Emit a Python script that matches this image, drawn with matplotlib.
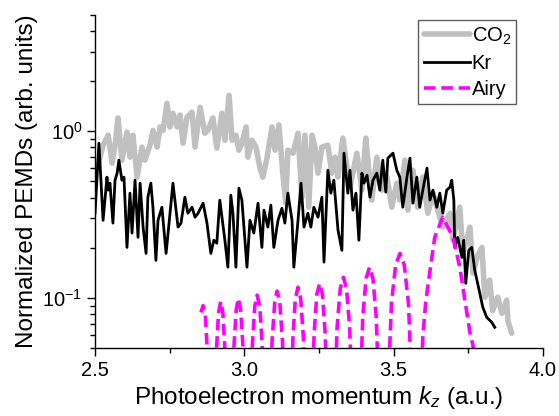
import numpy as np
import matplotlib
matplotlib.use('Agg')
import matplotlib.pyplot as plt
from matplotlib.ticker import MultipleLocator, LogLocator, NullFormatter

plt.rcParams['font.family'] = ['Liberation Sans', 'DejaVu Sans']
plt.rcParams['mathtext.fontset'] = 'custom'
plt.rcParams['mathtext.rm'] = 'Liberation Sans'
plt.rcParams['mathtext.it'] = 'Liberation Sans:italic'

# CO2 (серая кривая)
k_co2 = [2.510, 2.527, 2.544, 2.557, 2.567, 2.577, 2.590, 2.607, 2.617, 2.627,
         2.641, 2.657, 2.667, 2.684, 2.694, 2.708, 2.718, 2.728, 2.741, 2.751,
         2.761, 2.775, 2.785, 2.795, 2.808, 2.825, 2.835, 2.852, 2.868, 2.878,
         2.895, 2.908, 2.925, 2.935, 2.949, 2.959, 2.972, 2.982, 2.992, 3.006,
         3.012, 3.026, 3.039, 3.052, 3.062, 3.076, 3.093, 3.103, 3.116, 3.129,
         3.139, 3.146, 3.163, 3.180, 3.193, 3.203, 3.216, 3.227, 3.237, 3.247,
         3.260, 3.280, 3.293, 3.304, 3.314, 3.330, 3.354, 3.377, 3.394, 3.407,
         3.414, 3.427, 3.444, 3.461, 3.478, 3.494, 3.511, 3.521, 3.538, 3.548,
         3.565, 3.581, 3.598, 3.615, 3.632, 3.648, 3.665, 3.689, 3.699, 3.722,
         3.732, 3.756, 3.766, 3.782, 3.796, 3.806, 3.822, 3.832, 3.849, 3.863,
         3.879, 3.883, 3.896]
v_co2 = [0.625, 0.824, 0.946, 0.643, 0.824, 1.20, 0.670, 0.986, 0.698, 0.946,
         0.530, 0.802, 0.670, 0.824, 1.01, 0.802, 1.06, 1.01, 1.47, 1.06,
         1.28, 1.06, 1.25, 0.847, 1.21, 1.30, 0.802, 1.39, 0.972, 1.01,
         1.20, 0.791, 1.28, 0.883, 1.64, 0.883, 0.946, 0.769, 0.847, 1.06,
         0.698, 0.883, 0.802, 0.608, 0.530, 0.689, 1.06, 0.769, 1.09, 0.560,
         0.370, 0.769, 0.738, 0.972, 0.402, 0.946, 0.350, 0.946, 0.802, 0.560,
         0.802, 0.824, 0.560, 0.698, 0.530, 0.908, 0.461, 0.738, 0.443, 0.908,
         0.670, 0.386, 0.698, 0.443, 0.530, 0.350, 0.488, 0.386, 0.670, 0.336,
         0.583, 0.350, 0.530, 0.322, 0.425, 0.336, 0.266, 0.322, 0.222, 0.350,
         0.185, 0.266, 0.141, 0.180, 0.201, 0.101, 0.128, 0.084, 0.101, 0.081,
         0.097, 0.073, 0.0614]

# Kr (черная кривая)
k_kr = [2.500, 2.513, 2.527, 2.540, 2.544, 2.550, 2.560, 2.567, 2.574, 2.580,
        2.590, 2.597, 2.607, 2.617, 2.624, 2.634, 2.644, 2.651, 2.661, 2.671,
        2.677, 2.687, 2.694, 2.704, 2.711, 2.724, 2.738, 2.748, 2.761, 2.778,
        2.788, 2.801, 2.811, 2.825, 2.835, 2.845, 2.862, 2.875, 2.888, 2.898,
        2.908, 2.918, 2.935, 2.945, 2.955, 2.962, 2.972, 2.982, 2.992, 3.009,
        3.019, 3.032, 3.046, 3.059, 3.066, 3.079, 3.089, 3.099, 3.113, 3.126,
        3.136, 3.146, 3.160, 3.166, 3.180, 3.190, 3.200, 3.213, 3.223, 3.233,
        3.247, 3.260, 3.267, 3.280, 3.290, 3.300, 3.314, 3.327, 3.334, 3.347,
        3.354, 3.364, 3.374, 3.384, 3.394, 3.401, 3.411, 3.421, 3.431, 3.444,
        3.454, 3.464, 3.474, 3.481, 3.498, 3.511, 3.521, 3.531, 3.545, 3.555,
        3.565, 3.578, 3.588, 3.598, 3.612, 3.622, 3.632, 3.645, 3.655, 3.665,
        3.678, 3.689, 3.695, 3.702, 3.705, 3.715, 3.729, 3.735, 3.742, 3.752,
        3.762, 3.772, 3.789, 3.799, 3.812, 3.829, 3.839]
v_kr = [0.322, 0.847, 0.292, 0.530, 0.443, 0.488, 0.281, 0.508, 0.560, 0.670,
        0.508, 0.530, 0.201, 0.425, 0.245, 0.508, 0.231, 0.488, 0.266, 0.185,
        0.402, 0.488, 0.350, 0.168, 0.292, 0.350, 0.185, 0.281, 0.488, 0.266,
        0.281, 0.402, 0.322, 0.350, 0.305, 0.322, 0.370, 0.281, 0.185, 0.222,
        0.213, 0.386, 0.222, 0.153, 0.413, 0.322, 0.153, 0.455, 0.386, 0.153,
        0.292, 0.245, 0.370, 0.201, 0.336, 0.266, 0.360, 0.201, 0.292, 0.345,
        0.281, 0.425, 0.292, 0.153, 0.292, 0.488, 0.266, 0.322, 0.266, 0.350,
        0.305, 0.402, 0.164, 0.583, 0.425, 0.508, 0.255, 0.193, 0.738, 0.425,
        0.583, 0.336, 0.425, 0.222, 0.560, 0.488, 0.545, 0.402, 0.508, 0.560,
        0.443, 0.670, 0.431, 0.689, 0.738, 0.583, 0.530, 0.350, 0.530, 0.689,
        0.370, 0.530, 0.350, 0.443, 0.600, 0.386, 0.443, 0.350, 0.425, 0.322,
        0.443, 0.461, 0.508, 0.386, 0.201, 0.231, 0.175, 0.222, 0.1225, 0.193,
        0.201, 0.147, 0.1067, 0.088, 0.0766, 0.0715, 0.0667]

# Airy (пунктир)
k_airy = [2.855, 2.862, 2.870, 2.877, 2.892,
          2.9065, 2.914, 2.921, 2.928, 2.9355, 2.950,
          2.965, 2.973, 2.980, 2.988, 2.996, 3.011,
          3.027, 3.035, 3.043, 3.052, 3.060, 3.076,
          3.093, 3.102, 3.110, 3.119, 3.128, 3.145,
          3.163, 3.171, 3.180, 3.189, 3.198, 3.215,
          3.234, 3.243, 3.2525, 3.262, 3.271, 3.290,
          3.311, 3.3215, 3.332, 3.3425, 3.353, 3.374,
          3.397, 3.408, 3.4195, 3.431, 3.442, 3.465,
          3.493, 3.507, 3.5215, 3.536, 3.550, 3.578,
          3.598, 3.608, 3.622, 3.638, 3.665, 3.699, 3.722, 3.739, 3.756, 3.766, 3.785]
v_airy = [0.082, 0.090, 0.077, 0.045, 0.005,
          0.048, 0.082, 0.0955, 0.082, 0.048, 0.005,
          0.050, 0.085, 0.0996, 0.085, 0.050, 0.005,
          0.052, 0.089, 0.104, 0.089, 0.052, 0.005,
          0.055, 0.094, 0.110, 0.094, 0.055, 0.005,
          0.058, 0.099, 0.116, 0.099, 0.058, 0.005,
          0.061, 0.105, 0.1225, 0.105, 0.061, 0.005,
          0.067, 0.114, 0.133, 0.114, 0.067, 0.005,
          0.077, 0.131, 0.153, 0.131, 0.077, 0.005,
          0.093, 0.158, 0.185, 0.158, 0.093, 0.005,
          0.058, 0.0955, 0.145, 0.231, 0.305, 0.231, 0.153, 0.097, 0.062, 0.052, 0.030]

fig = plt.figure(figsize=(5.59, 4.16), dpi=100)
ax = fig.add_axes([0.170, 0.163, 0.801, 0.802])

ax.plot(k_co2, v_co2, color='#c0c0c0', lw=4.0, label='CO$_2$',
        solid_joinstyle='round', solid_capstyle='round')
ax.plot(k_kr, v_kr, color='black', lw=2.0, label='Kr', solid_joinstyle='round')
ax.plot(k_airy, v_airy, color='#ff00ff', lw=2.6, ls=(0, (3.2, 1.6)), label='Airy')

ax.set_yscale('log')
ax.set_xlim(2.5, 4.0)
ax.set_ylim(0.05, 5)

ax.xaxis.set_major_locator(MultipleLocator(0.5))
ax.xaxis.set_minor_locator(MultipleLocator(0.25))
ax.xaxis.set_major_formatter(matplotlib.ticker.FormatStrFormatter('%.1f'))
ax.yaxis.set_major_locator(LogLocator(base=10))
ax.yaxis.set_minor_locator(LogLocator(base=10, subs=np.arange(2, 10)))
ax.yaxis.set_minor_formatter(NullFormatter())

for s in ['top', 'right']:
    ax.spines[s].set_visible(False)
for s in ['left', 'bottom']:
    ax.spines[s].set_linewidth(1.0)

ax.tick_params(which='major', direction='out', length=5.5, width=1.0, labelsize=14.5)
ax.tick_params(which='minor', direction='out', length=3.5, width=1.0)

ax.set_xlabel('Photoelectron momentum $k_z$ (a.u.)', fontsize=17.5, labelpad=3)
ax.set_ylabel('Normalized PEMDs (arb. units)', fontsize=17.5, labelpad=3)

leg = ax.legend(loc='upper right', bbox_to_anchor=(0.95, 0.995), fontsize=14.5,
                frameon=True, fancybox=False, edgecolor='#333333',
                handlelength=2.3, handletextpad=0.1, borderpad=0.25,
                labelspacing=0.35, borderaxespad=0.2)
leg.get_frame().set_linewidth(1.0)

fig.savefig('out.png', dpi=100)
